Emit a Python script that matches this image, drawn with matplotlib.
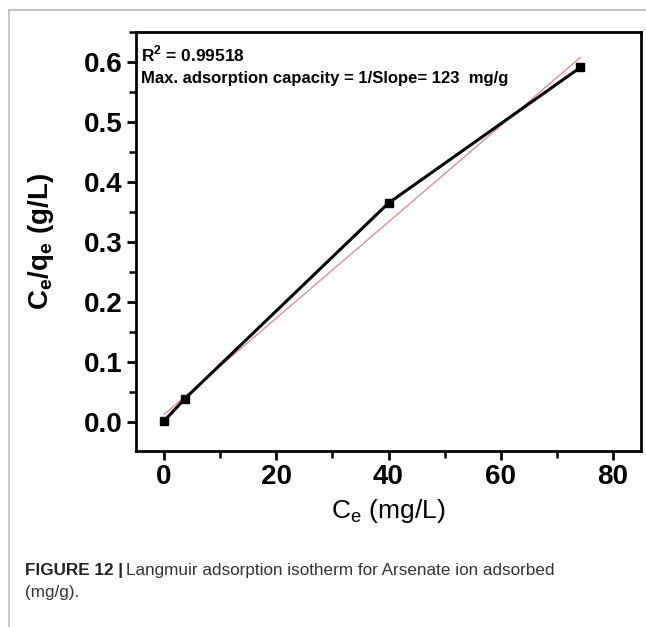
import matplotlib
matplotlib.use('Agg')
import matplotlib.pyplot as plt
from matplotlib.lines import Line2D
from matplotlib.ticker import MultipleLocator
import numpy as np

# data
ce = [0.0, 3.7, 40.0, 74.2]
ce_qe = [0.002, 0.039, 0.365, 0.591]
xticks = [0, 20, 40, 60, 80]
yticks = [0.0, 0.1, 0.2, 0.3, 0.4, 0.5, 0.6]

plt.rcParams['font.family'] = ['Liberation Sans', 'DejaVu Sans']

W, H = 646, 627
fig = plt.figure(figsize=(W / 100, H / 100), dpi=100)
fig.patch.set_facecolor('white')

# axes box in pixels
left, right, top, bottom = 136, 641, 32, 451
ax = fig.add_axes([left / W, 1 - bottom / H, (right - left) / W, (bottom - top) / H])

# linear fit (thin red line)
slope, icpt = np.polyfit(ce, ce_qe, 1)
xf = np.array([ce[0], ce[-1]])
ax.plot(xf, slope * xf + icpt, color='#e08585', lw=0.9, zorder=2)
ax.plot(ce, ce_qe, color='black', lw=2.2, marker='s', ms=6, zorder=3)

ax.set_xlim(-5, 85)
ax.set_ylim(-0.048, 0.65)
ax.set_xticks(xticks)
ax.set_yticks(yticks)
ax.set_xticklabels([str(v) for v in xticks])
ax.set_yticklabels(['%.1f' % v for v in yticks])
ax.xaxis.set_minor_locator(MultipleLocator(10))
ax.yaxis.set_minor_locator(MultipleLocator(0.05))
ax.tick_params(which='major', direction='out', length=6.5, width=2, labelsize=20)
ax.tick_params(axis='x', which='major', pad=3)
ax.tick_params(axis='y', which='major', pad=3)
ax.tick_params(which='minor', direction='out', length=5, width=1.8)
ax.tick_params(top=False, right=False)
for lab in ax.get_xticklabels() + ax.get_yticklabels():
    lab.set_fontweight('bold')
for s in ax.spines.values():
    s.set_linewidth(2)

ax.set_xlabel(r'C$_\mathregular{e}$ (mg/L)', fontsize=19, labelpad=5)
ax.set_ylabel(r'C$_\mathregular{e}$/q$_\mathregular{e}$ (g/L)', fontsize=20,
              fontweight='bold', labelpad=20)

ax.text(0.01, 0.948, r'R$^\mathregular{2}$ = 0.99518', transform=ax.transAxes,
        fontsize=12.5, fontweight='bold', va='center', ha='left')
ax.text(0.01, 0.888, 'Max. adsorption capacity = 1/Slope= 123  mg/g',
        transform=ax.transAxes, fontsize=12, fontweight='bold',
        va='center', ha='left')

# frame lines of the page
fig.add_artist(Line2D([9 / W, 1], [1 - 10 / H, 1 - 10 / H], color='#bbbbbb', lw=1.2))
fig.add_artist(Line2D([9 / W, 9 / W], [0, 1 - 10 / H], color='#bbbbbb', lw=1.2))

# caption
cap_y1, cap_y2 = 570, 592
t1 = fig.text(25 / W, 1 - cap_y1 / H, 'FIGURE 12 |', fontsize=12.3, fontweight='bold',
              va='center', ha='left', color='#222222')
fig.canvas.draw()
bb = t1.get_window_extent()
fig.text((bb.x1 + 3) / W, 1 - cap_y1 / H,
         'Langmuir adsorption isotherm for Arsenate ion adsorbed',
         fontsize=12.3, va='center', ha='left', color='#333333')
fig.text(25 / W, 1 - cap_y2 / H, '(mg/g).', fontsize=12.3,
         va='center', ha='left', color='#333333')

fig.savefig('out.png', dpi=100, facecolor=fig.get_facecolor())
plt.close(fig)
